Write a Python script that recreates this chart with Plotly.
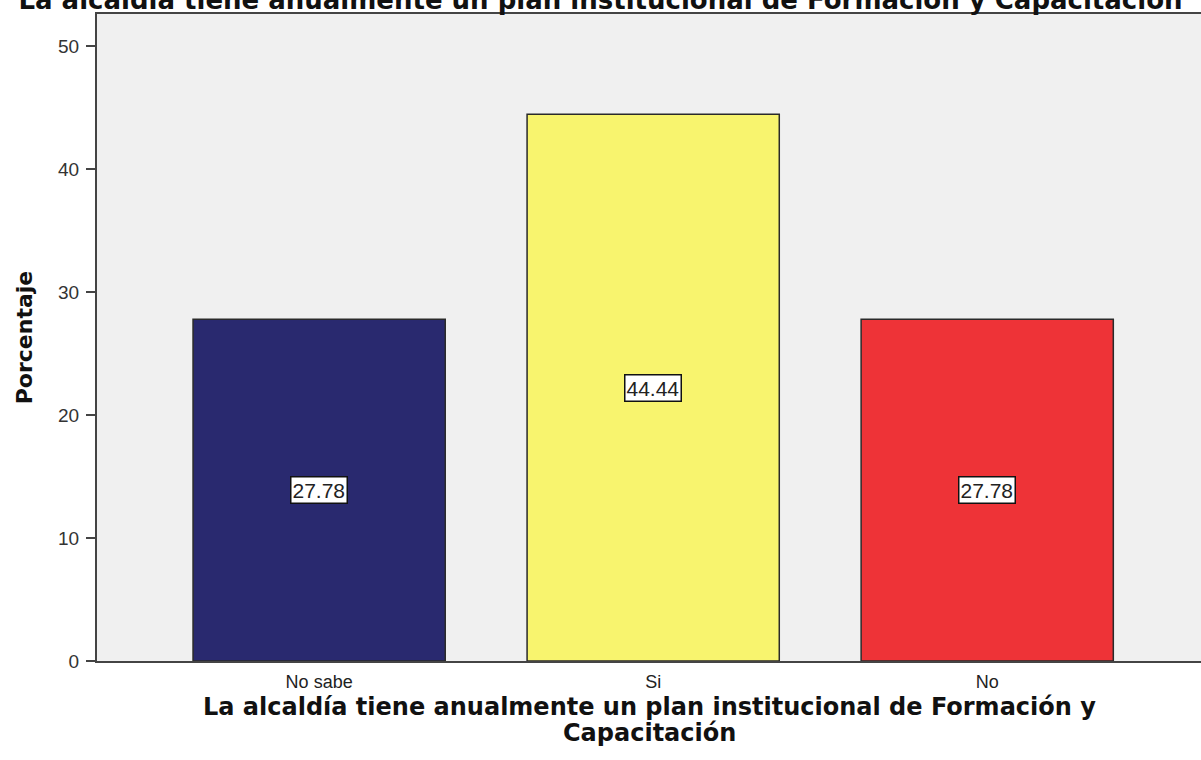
import plotly.graph_objects as go

categories = ["No sabe", "Si", "No"]
values = [27.78, 44.44, 27.78]
labels = ["27.78", "44.44", "27.78"]
colors = ["#29296F", "#F8F46E", "#EE3337"]

title_text = "La alcaldía tiene anualmente un plan institucional de Formación y Capacitación"
x_title_lines = ["La alcaldía tiene anualmente un plan institucional de Formación y", "Capacitación"]
y_title = "Porcentaje"

BOLD = "DejaVu Sans"
REG = "Arial, Liberation Sans"

fig = go.Figure()
fig.add_trace(go.Bar(
    x=categories, y=values,
    marker=dict(color=colors, line=dict(color="#2a2a2a", width=1.5)),
    width=0.755,
    hoverinfo="skip",
))

for c, v, t in zip(categories, values, labels):
    fig.add_annotation(
        x=c, y=v / 2, text=t, showarrow=False,
        bgcolor="white", bordercolor="#111", borderwidth=1.5, borderpad=1,
        font=dict(family=REG, size=21, color="#222"),
    )

# x axis title (two tightly spaced lines)
for i, line in enumerate(x_title_lines):
    fig.add_annotation(
        x=0.5, xref="paper", y=-0.071 - 0.041 * i, yref="paper",
        yanchor="middle", xanchor="center", showarrow=False,
        text="<b>" + line + "</b>",
        font=dict(family=BOLD, size=24, color="#111"),
    )

fig.update_layout(
    width=1201, height=760,
    margin=dict(l=97, r=0, t=14, b=99),
    paper_bgcolor="white",
    plot_bgcolor="#F0F0F0",
    showlegend=False,
    title=dict(
        text="<b>" + title_text + "</b>",
        x=0.5, xanchor="center", xref="container",
        y=1.0, yanchor="middle", yref="container",
        font=dict(family=BOLD, size=26, color="#111"),
    ),
    xaxis=dict(
        range=[-0.665, 2.64],
        showline=True, linecolor="#444", linewidth=2, mirror=True,
        ticks="", showgrid=False, ticklabelstandoff=3,
        tickfont=dict(family=REG, size=18, color="#222"),
    ),
    yaxis=dict(
        range=[0, 52.6],
        tickvals=[0, 10, 20, 30, 40, 50],
        showline=True, linecolor="#444", linewidth=2,
        ticks="outside", ticklen=9, tickcolor="#444", tickwidth=1.5,
        showgrid=False, zeroline=False, ticklabelstandoff=3,
        tickfont=dict(family=REG, size=19, color="#333"),
        title=dict(text="<b>" + y_title + "</b>", standoff=19,
                   font=dict(family=BOLD, size=22, color="#111")),
    ),
)

fig.write_html("out.html", config={"displayModeBar": False},
               post_script="document.body.style.margin='0';")
